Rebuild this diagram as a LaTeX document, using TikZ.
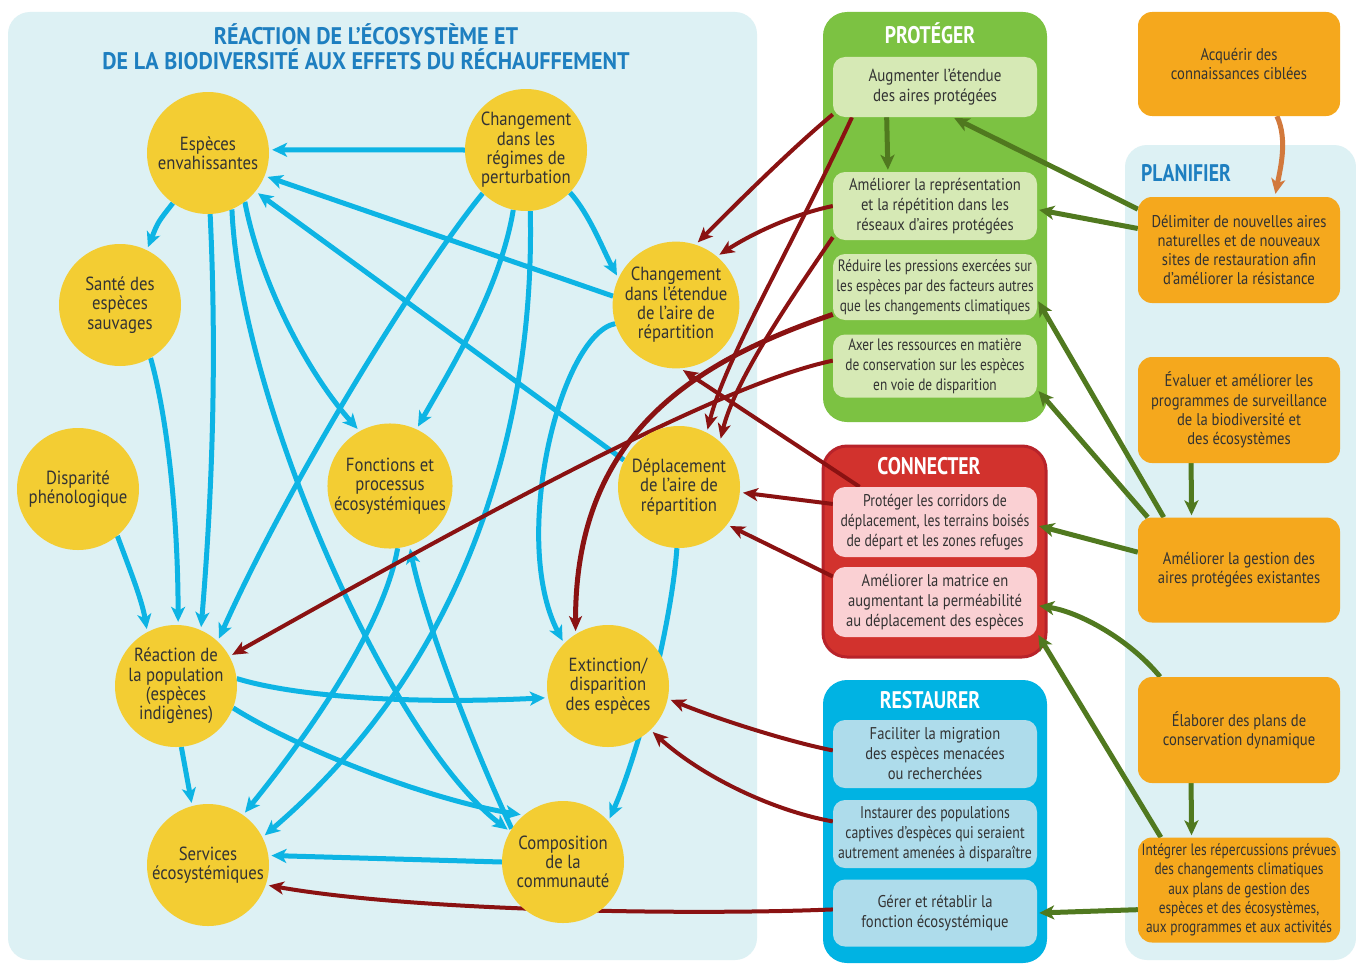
\documentclass[tikz,border=0pt]{standalone}
\usepackage{fontspec}
\setmainfont{PT Sans}
\newfontfamily\fC[FakeStretch=0.88]{PT Sans}
\newfontfamily\fA[FakeStretch=0.86]{PT Sans}
\newfontfamily\fB[FakeStretch=0.81]{PT Sans}
\newfontfamily\fT[FakeStretch=0.82]{PT Sans}
\newfontfamily\fH[FakeStretch=0.92]{PT Sans}
\usetikzlibrary{arrows.meta,calc}
\pgfdeclarelayer{bg}
\pgfdeclarelayer{lines}
\pgfsetlayers{bg,lines,main}
\definecolor{panel}{HTML}{DDF1F4}
\definecolor{ttl}{HTML}{1E7FC0}
\definecolor{circy}{HTML}{F3CD33}
\definecolor{cyanl}{HTML}{0DB4E4}
\definecolor{dred}{HTML}{8A1212}
\definecolor{dgreen}{HTML}{50791F}
\definecolor{gbox}{HTML}{7CC242}
\definecolor{gin}{HTML}{D6E9B5}
\definecolor{rbox}{HTML}{D2322D}
\definecolor{rborder}{HTML}{B8232A}
\definecolor{rin}{HTML}{FAD0D3}
\definecolor{bbox}{HTML}{00B3E3}
\definecolor{bin}{HTML}{AEDCEB}
\definecolor{obox}{HTML}{F5A81D}
\definecolor{oarr}{HTML}{D2793C}
\definecolor{txt}{HTML}{333333}
\begin{document}
\begin{tikzpicture}[x=1pt,y=-1pt,
 circ/.style={circle,fill=circy,minimum size=122pt,inner sep=0pt,align=center,text=txt,font=\fC\fontsize{19}{19.3}\selectfont},
 gbx/.style={fill=gin,rounded corners=12pt,minimum width=204pt,inner sep=0pt,align=center,text=txt},
 rbx/.style={gbx,fill=rin},
 bbx/.style={gbx,fill=bin},
 obx/.style={fill=obox,rounded corners=14pt,minimum width=202pt,minimum height=105pt,inner sep=0pt,align=center,text=txt,font=\fA\fontsize{17}{19.3}\selectfont},
 hd/.style={text=white,font=\fT\bfseries\fontsize{24}{26}\selectfont},
 cy/.style={draw=cyanl,line width=5pt,-{Stealth[length=15pt,width=14pt,inset=4pt]},shorten >=3pt},
 rd/.style={draw=dred,line width=4pt,-{Stealth[length=15pt,width=13pt,inset=4pt]},shorten >=3pt},
 gr/.style={draw=dgreen,line width=5pt,-{Stealth[length=15pt,width=14pt,inset=4pt]},shorten >=2pt},
 fa/.style={font=\fA\fontsize{17}{20}\selectfont},
 fb/.style={font=\fB\fontsize{16.5}{20}\selectfont}
 ]
\useasboundingbox (0,0) rectangle (1356,966);
\begin{pgfonlayer}{bg}
\fill[white] (0,0) rectangle (1356,966);
\fill[panel,rounded corners=22pt] (8,12) rectangle (757,960);
\fill[panel,rounded corners=22pt] (1125,145) rectangle (1356,960);
\fill[gbox,rounded corners=24pt] (823,12) rectangle (1047,422);
\filldraw[fill=rbox,draw=rborder,line width=3pt,rounded corners=24pt] (823,446) rectangle (1046,657);
\fill[bbox,rounded corners=24pt] (823,680) rectangle (1047,963);
\end{pgfonlayer}

% titles
\node[align=center,text=ttl,font=\fH\bfseries\fontsize{24}{25}\selectfont] (title) at (366,47) {RÉACTION DE L’ÉCOSYSTÈME ET\\DE LA BIODIVERSITÉ AUX EFFETS DU RÉCHAUFFEMENT};
\node[hd] (hprot) at (930,33) {PROTÉGER};
\node[hd] (hconn) at (929,466) {CONNECTER};
\node[hd] (hrest) at (930,700) {RESTAURER};
\node[text=ttl,font=\fT\bfseries\fontsize{24}{26}\selectfont] (hplan) at (1186,173) {PLANIFIER};

% circles
\node[circ] (esp) at (208,153) {Espèces\\envahissantes};
\node[circ] (reg) at (526,150) {Changement\\dans les\\régimes de\\perturbation};
\node[circ] (san) at (120,305) {Santé des\\espèces\\sauvages};
\node[circ] (dis) at (78,489) {Disparité\\phénologique};
\node[circ] (eten) at (676,305) {Changement\\dans l’étendue\\de l’aire de\\répartition};
\node[circ] (fon) at (390,486) {Fonctions et\\processus\\écosystémiques};
\node[circ] (dep) at (679,487) {Déplacement\\de l’aire de\\répartition};
\node[circ] (rea) at (176,686) {Réaction de\\la population\\(espèces\\indigènes)};
\node[circ] (ext) at (608,686) {Extinction/\\disparition\\des espèces};
\node[circ] (ser) at (208,865) {Services\\écosystémiques};
\node[circ] (com) at (563,862) {Composition\\de la\\communauté};

% action boxes
\node[gbx,fa,minimum height=60pt,font=\fA\fontsize{17.5}{20}\selectfont] (A1) at (935,87) {Augmenter l’étendue\\des aires protégées};
\node[gbx,fa,minimum height=68pt] (A2) at (935,206) {Améliorer la représentation\\et la répétition dans les\\réseaux d’aires protégées};
\node[gbx,fb,minimum height=66pt] (A3) at (935,287) {Réduire les pressions exercées sur\\les espèces par des facteurs autres\\que les changements climatiques};
\node[gbx,fb,minimum height=63pt] (A4) at (935,366) {Axer les ressources en matière\\de conservation sur les espèces\\en voie de disparition};
\node[rbx,fb,minimum height=70pt,font=\fB\fontsize{17}{20}\selectfont] (C1) at (935,522) {Protéger les corridors de\\déplacement, les terrains boisés\\de départ et les zones refuges};
\node[rbx,fa,minimum height=70pt] (C2) at (935,602) {Améliorer la matrice en\\augmentant la perméabilité\\au déplacement des espèces};
\node[bbx,fa,minimum height=68pt] (R1) at (935,754) {Faciliter la migration\\des espèces menacées\\ou recherchées};
\node[bbx,fb,minimum height=68pt,font=\fB\fontsize{17}{20}\selectfont] (R2) at (935,834) {Instaurer des populations\\captives d’espèces qui seraient\\autrement amenées à disparaître};
\node[bbx,fa,minimum height=67pt] (R3) at (935,913) {Gérer et rétablir la\\fonction écosystémique};

% orange boxes
\node[obx,minimum height=104pt] (O1) at (1239,64) {Acquérir des\\connaissances ciblées};
\node[obx,minimum height=106pt] (O2) at (1239,250) {Délimiter de nouvelles aires\\naturelles et de nouveaux\\sites de restauration afin\\d’améliorer la résistance};
\node[obx,minimum height=106pt] (O3) at (1239,410) {Évaluer et améliorer les\\programmes de surveillance\\de la biodiversité et\\des écosystèmes};
\node[obx] (O4) at (1239,570) {Améliorer la gestion des\\aires protégées existantes};
\node[obx,minimum height=106pt] (O5) at (1239,730) {Élaborer des plans de\\conservation dynamique};
\node[obx,font=\fB\fontsize{16.5}{19.3}\selectfont] (O6) at (1239,890) {Intégrer les répercussions prévues\\des changements climatiques\\aux plans de gestion des\\espèces et des écosystèmes,\\aux programmes et aux activités};

\begin{pgfonlayer}{lines}
% cyan
\draw[cy] (reg.180) -- (esp.3);
\draw[cy] (esp.235) .. controls (158,222) .. (san.64);
\draw[cy] (esp.272) .. controls (218,380) and (210,520) .. (rea.66);
\draw[cy] (san.300) .. controls (168,420) and (178,520) .. (rea.88);
\draw[cy] (dis.310) .. controls (130,570) and (142,600) .. (rea.118);
\draw[cy] (esp.307) .. controls (262,290) and (312,378) .. (fon.119);
\draw[cy] (esp.293) .. controls (240,400) and (390,740) .. (com.150);
\draw[cy] (reg.225) .. controls (420,270) and (290,480) .. (rea.47);
\draw[cy] (reg.258) .. controls (500,290) and (450,370) .. (fon.65);
\draw[cy] (reg.274) .. controls (535,420) and (470,660) .. (ser.27);
\draw[cy] (fon.277) .. controls (385,620) and (320,720) .. (ser.55);
\draw[cy] (reg.316) .. controls (590,215) and (603,250) .. (eten.155);
\draw[cy] (eten.172) -- (esp.338);
\draw[cy] (dep.154) -- (esp.321);
\draw[cy] (eten.197) .. controls (560,335) and (510,540) .. (ext.136);
\draw[cy] (dep.268) .. controls (672,620) and (640,750) .. (com.42);
\draw[cy] (rea.7) .. controls (300,698) and (420,704) .. (ext.191);
\draw[cy] (rea.339) .. controls (300,750) and (430,800) .. (com.130);
\draw[cy] (rea.275) -- (ser.105);
\draw[cy] (com.147) .. controls (470,740) and (425,620) .. (fon.288);
\draw[cy] (com.180) -- (ser.9);
% red
\draw[rd] (A1.195) .. controls (790,150) and (735,205) .. (eten.72);
\draw[rd] (A1.200) .. controls (790,250) and (725,360) .. (dep.63);
\draw[rd] (A2.180) .. controls (790,215) and (750,235) .. (eten.50);
\draw[rd] (A2.197) .. controls (790,300) and (735,380) .. (dep.48);
\draw[rd,line width=5pt] (A3.195) .. controls (700,360) and (575,430) .. (ext.122);
\draw[rd] (A4.177) .. controls (740,380) and (560,470) .. (rea.29);
\draw[rd] (C1.155) -- (eten.274);
\draw[rd] (C1.170) -- (dep.355);
\draw[rd] (C2.166) -- (dep.322);
\draw[rd] (R1.178) .. controls (790,742) and (720,720) .. (ext.348);
\draw[rd] (R2.173) .. controls (770,810) and (700,775) .. (ext.314);
\draw[rd] (R3.178) .. controls (700,915) and (420,912) .. (ser.341);
% green
\draw[gr] (A1.212) -- (A2.144);
\draw[gr] (O2.158) -- (A1.300);
\draw[gr] (O2.168) -- (A2.358);
\draw[gr] (O4.145) -- (A3.353);
\draw[gr] (O4.150) -- (A4.347);
\draw[gr] (O4.170) -- (C1.358);
\draw[gr] (O5.146) .. controls (1130,640) and (1080,612) .. (C2.358);
\draw[gr] (O6.146) -- (C2.343);
\draw[gr] (O6.191) -- (R3.0);
\draw[gr] (O3.228) -- (O4.132);
\draw[gr] (O5.228) -- (O6.132);
% orange
\draw[draw=oarr,line width=5pt,-{Stealth[length=15pt,width=14pt,inset=4pt]},shorten >=3pt] (O1.306) .. controls (1288,140) and (1280,170) .. (O2.56);
\end{pgfonlayer}
\end{tikzpicture}
\end{document}
